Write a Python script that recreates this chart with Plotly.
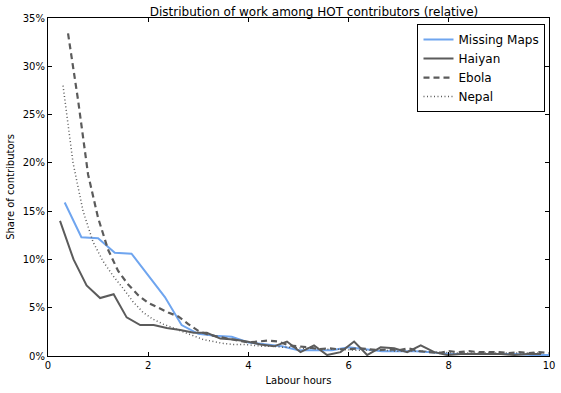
import plotly.graph_objects as go

# ---- data ----
mm_x = [1/3, 2/3, 1.0, 4/3, 5/3, 2.0, 7/3, 8/3, 3.0, 10/3, 11/3, 4.0, 13/3, 14/3, 5.0, 16/3,
        17/3, 6.0, 19/3, 20/3, 7.0, 22/3, 23/3, 8.0, 25/3, 26/3, 9.0, 28/3, 29/3, 10.0]
mm_y = [15.9, 12.3, 12.2, 10.7, 10.6, 8.4, 6.1, 3.2, 2.3, 2.1, 2.0, 1.4, 1.2, 1.0, 0.6, 0.6,
        0.6, 0.9, 0.7, 0.5, 0.5, 0.5, 0.4, 0.2, 0.2, 0.2, 0.2, 0.2, 0.1, 0.1]

haiyan_x = [0.24, 0.51, 0.77, 1.04, 1.31, 1.57, 1.84, 2.11, 2.37, 2.64, 2.91, 3.17, 3.44,
            3.71, 3.97, 4.24, 4.51, 4.77, 5.04, 5.31, 5.57, 5.84, 6.11, 6.37, 6.64, 6.91,
            7.17, 7.44, 7.71, 7.97, 8.24, 8.51, 8.77, 9.04, 9.31, 9.57, 9.84]
haiyan_y = [14.0, 10.0, 7.3, 6.0, 6.4, 4.0, 3.2, 3.2, 2.9, 2.7, 2.4, 2.4, 1.8,
            1.7, 1.5, 1.2, 1.0, 1.5, 0.4, 1.1, 0.1, 0.4, 1.5, 0.1, 0.9,
            0.8, 0.4, 1.1, 0.4, 0.1, 0.2, 0.2, 0.2, 0.2, 0.1, 0.2, 0.2]

ebola_x = [0.4, 0.6, 0.8, 1.0, 1.2, 1.4, 1.6, 1.8, 2.0, 2.2, 2.4, 2.6, 2.8, 3.0, 3.2, 3.4,
           3.6, 3.8, 4.0, 4.2, 4.4, 4.6, 4.8, 5.0, 5.2, 5.4, 5.6, 5.8, 6.0, 6.2, 6.4, 6.6,
           6.8, 7.0, 7.2, 7.4, 7.6, 7.8, 8.0, 8.2, 8.4, 8.6, 8.8, 9.0, 9.2, 9.4, 9.6, 9.8, 10.0]
ebola_y = [33.4, 26.5, 18.8, 14.3, 11.0, 8.8, 7.4, 6.3, 5.5, 5.0, 4.5, 4.1, 3.3, 2.6, 2.2, 2.0,
           1.8, 1.6, 1.4, 1.5, 1.6, 1.5, 1.1, 1.0, 0.9, 0.7, 0.8, 0.7, 0.7, 0.8, 0.7, 0.6,
           0.7, 0.6, 0.8, 0.5, 0.4, 0.3, 0.5, 0.4, 0.5, 0.4, 0.4, 0.4, 0.3, 0.4, 0.3, 0.4, 0.3]

nepal_x = [0.3, 0.5, 0.7, 0.9, 1.1, 1.3, 1.5, 1.7, 1.9, 2.1, 2.3, 2.5, 2.7, 2.9, 3.1, 3.3,
           3.5, 3.7, 3.9, 4.1, 4.3, 4.5, 4.7, 4.9, 5.1, 5.3, 5.5, 5.7, 5.9, 6.1, 6.3, 6.5,
           6.7, 6.9, 7.1, 7.3, 7.5, 7.7, 7.9, 8.1, 8.3, 8.5, 8.7, 8.9, 9.1, 9.3, 9.5, 9.7, 9.9]
nepal_y = [28.0, 20.0, 15.0, 11.8, 9.8, 8.3, 7.0, 5.6, 4.5, 3.8, 3.3, 2.9, 2.5, 2.1, 1.7, 1.5,
           1.3, 1.2, 1.2, 1.1, 1.0, 1.0, 0.9, 0.9, 0.8, 0.8, 0.7, 0.7, 0.7, 0.6, 0.6, 0.6,
           0.6, 0.5, 0.5, 0.5, 0.5, 0.4, 0.4, 0.3, 0.3, 0.3, 0.3, 0.3, 0.3, 0.3, 0.3, 0.3, 0.3]

x_ticks = [0, 2, 4, 6, 8, 10]
y_ticks = [0, 5, 10, 15, 20, 25, 30, 35]
y_tick_labels = ["0%", "5%", "10%", "15%", "20%", "25%", "30%", "35%"]

GRAY = "#5b5b5b"
BLUE = "#6fa5ef"

fig = go.Figure()
fig.add_trace(go.Scatter(x=mm_x, y=mm_y, mode="lines", name="Missing Maps",
                         line=dict(color=BLUE, width=2)))
fig.add_trace(go.Scatter(x=haiyan_x, y=haiyan_y, mode="lines", name="Haiyan",
                         line=dict(color=GRAY, width=2)))
fig.add_trace(go.Scatter(x=ebola_x, y=ebola_y, mode="lines", name="Ebola",
                         line=dict(color=GRAY, width=2.2, dash="6px,4px")))
fig.add_trace(go.Scatter(x=nepal_x, y=nepal_y, mode="lines", name="Nepal",
                         line=dict(color=GRAY, width=1.5, dash="1px,2.5px")))

font = "DejaVu Sans, sans-serif"
fig.update_layout(
    width=561, height=393,
    margin=dict(l=48, r=12, t=18, b=37, autoexpand=False),
    paper_bgcolor="white", plot_bgcolor="white",
    font=dict(family=font, size=10, color="black"),
    title=dict(text="Distribution of work among HOT contributors (relative)",
               x=0.531, xanchor="center", xref="paper",
               y=1 - 8 / 393, yref="container", yanchor="top", pad=dict(t=0, b=0, l=0, r=0),
               font=dict(size=12, family=font, color="black")),
    showlegend=True,
    legend=dict(x=0.993, xanchor="right", y=0.982, yanchor="top",
                bgcolor="white", bordercolor="black", borderwidth=1,
                font=dict(size=12, family=font, color="black"),
                tracegroupgap=0, itemwidth=30),
    xaxis=dict(range=[0, 10], tickvals=x_ticks, ticks="inside", ticklen=4,
               tickcolor="black", showline=True, linecolor="black", linewidth=1.2,
               mirror="ticks", showgrid=False, zeroline=False, automargin=False,
               title=dict(text="Labour hours", font=dict(size=10), standoff=6),
               tickfont=dict(size=10)),
    yaxis=dict(range=[0, 35], tickvals=y_ticks, ticktext=y_tick_labels,
               ticks="inside", ticklen=4, tickcolor="black", automargin=False,
               showline=True, linecolor="black", linewidth=1.2, mirror="ticks",
               showgrid=False, zeroline=False,
               title=dict(text="Share of contributors", font=dict(size=10), standoff=6),
               tickfont=dict(size=10)),
)

fig.write_html("out.html", config={"displayModeBar": False},
               post_script="document.body.style.margin='0';")
